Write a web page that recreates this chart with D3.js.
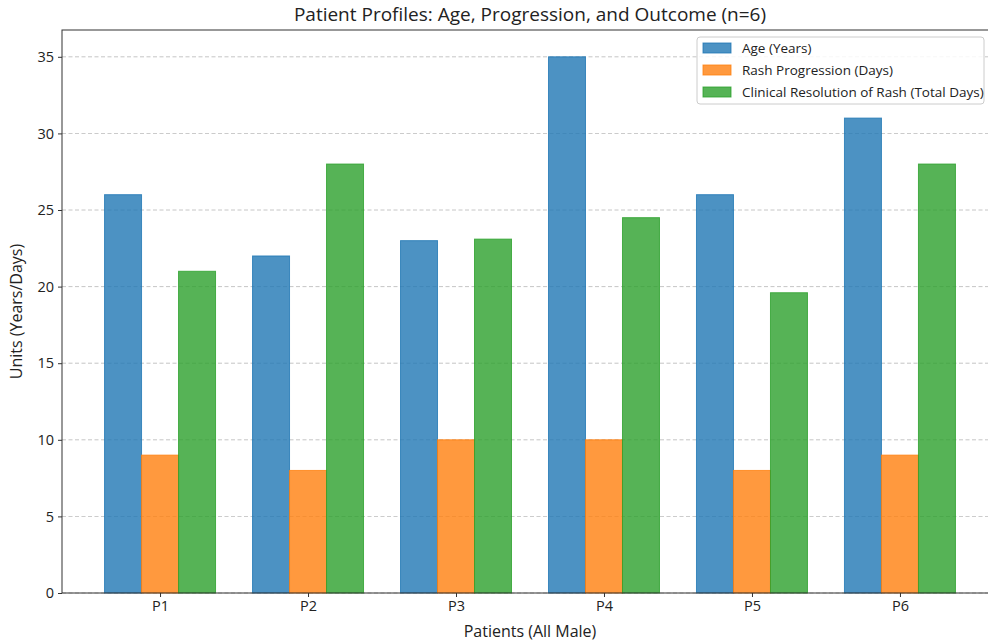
<!DOCTYPE html>
<html><head><meta charset="utf-8">
<script src="https://cdn.jsdelivr.net/npm/d3@7"></script>
<style>body{margin:0;background:#fff;} svg{display:block;} text{font-family:"Open Sans",sans-serif;fill:#222;}</style>
</head><body>
<svg id="c" width="988" height="644"></svg>
<script>
const patients = ["P1","P2","P3","P4","P5","P6"];
const seriesNames = ["Age (Years)","Rash Progression (Days)","Clinical Resolution of Rash (Total Days)"];
const ageYears = [26,22,23,35,26,31];
const rashProgression = [9,8,10,10,8,9];
const clinicalResolution = [21,28,23.1,24.5,19.6,28];
const yTicks = [0,5,10,15,20,25,30,35];
const colors = ["#1f77b4","#ff7f0e","#2ca02c"];
const series = [ageYears, rashProgression, clinicalResolution];

const svg = d3.select("#c");
const L=62, R=998, T=30, B=593;
const barW = 0.25;
const x = d3.scaleLinear().domain([-0.6625, 5.6625]).range([L,R]);
const y = d3.scaleLinear().domain([0, 36.75]).range([B,T]);
const FONT = "'Open Sans', sans-serif";

// grid
svg.append("g").selectAll("line").data(yTicks).join("line")
  .attr("x1",L).attr("x2",R).attr("y1",d=>y(d)).attr("y2",d=>y(d))
  .attr("stroke","#b0b0b0").attr("stroke-dasharray","4,2.5").attr("stroke-width",0.8).attr("opacity",0.9);

// bars
series.forEach((vals,si)=>{
  svg.append("g").selectAll("rect").data(vals).join("rect")
    .attr("x",(d,i)=>x(i+(si-1)*barW-barW/2))
    .attr("width",x(barW)-x(0))
    .attr("y",d=>y(d)).attr("height",d=>y(0)-y(d))
    .attr("fill",colors[si]).attr("fill-opacity",0.8)
    .attr("stroke",colors[si]).attr("stroke-opacity",0.8).attr("stroke-width",1);
});

// axes
const yAxis = d3.axisLeft(y).tickValues(yTicks).tickSize(4).tickPadding(4);
const gy = svg.append("g").attr("transform",`translate(${L},0)`).call(yAxis);
gy.select(".domain").remove();
gy.selectAll("text").style("font-size","14.5px").style("font-family",FONT).attr("fill","#222");
gy.selectAll("line").attr("stroke","#333");

const xAxis = d3.axisBottom(x).tickValues(d3.range(patients.length)).tickFormat(i=>patients[i]).tickSize(4).tickPadding(4);
const gx = svg.append("g").attr("transform",`translate(0,${B})`).call(xAxis);
gx.select(".domain").remove();
gx.selectAll("text").style("font-size","14.5px").style("font-family",FONT).attr("fill","#222");
gx.selectAll("line").attr("stroke","#333");

// spines
svg.append("rect").attr("x",L).attr("y",T).attr("width",R-L).attr("height",B-T)
  .attr("fill","none").attr("stroke","#333").attr("stroke-width",1);

// labels
svg.append("text").attr("x",(L+R)/2).attr("y",21).attr("text-anchor","middle")
  .style("font-size","19px").text("Patient Profiles: Age, Progression, and Outcome (n=6)");
svg.append("text").attr("x",(L+R)/2).attr("y",637).attr("text-anchor","middle")
  .style("font-size","16px").text("Patients (All Male)");
svg.append("text").attr("transform",`translate(22,${(T+B)/2}) rotate(-90)`).attr("text-anchor","middle")
  .style("font-size","16px").text("Units (Years/Days)");

// legend
const lg = svg.append("g");
lg.append("rect").attr("x",697).attr("y",37).attr("width",287).attr("height",67).attr("rx",3)
  .attr("fill","#fff").attr("fill-opacity",0.85).attr("stroke","#ccc");
seriesNames.forEach((n,i)=>{
  const yy = 48 + i*22;
  lg.append("rect").attr("x",703).attr("y",yy-5).attr("width",28).attr("height",10)
    .attr("fill",colors[i]).attr("fill-opacity",0.8).attr("stroke",colors[i]).attr("stroke-opacity",0.8);
  lg.append("text").attr("x",742).attr("y",yy+4.5).style("font-size","13.5px").text(n);
});
</script>
</body></html>
